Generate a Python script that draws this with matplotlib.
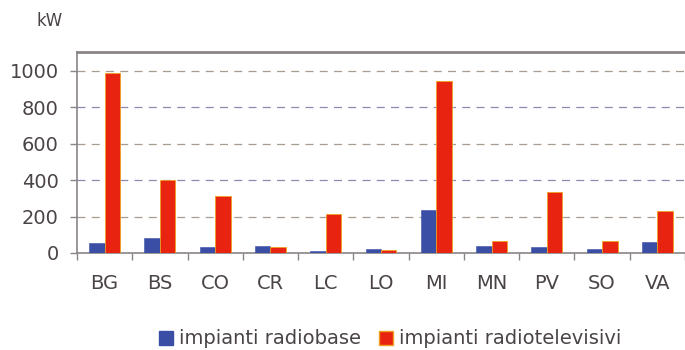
import numpy as np
import matplotlib
matplotlib.use("Agg")
import matplotlib.pyplot as plt
from matplotlib.patches import Patch

provinces = ["BG", "BS", "CO", "CR", "LC", "LO", "MI", "MN", "PV", "SO", "VA"]
radiobase = [53, 84, 31, 37, 13, 20, 236, 38, 35, 24, 59]
radiotv = [990, 400, 313, 35, 214, 15, 943, 66, 335, 64, 229]
yticks = [0, 200, 400, 600, 800, 1000]

blue = "#3a4ea6"
red = "#e8230f"
text_col = "#4a4446"
axis_col = "#8a8588"

fig = plt.figure(figsize=(6.85, 3.5), dpi=100)
ax = fig.add_axes([77 / 685, 97 / 350, 608 / 685, 201 / 350])

x = np.arange(len(provinces))
w = 0.28
ax.bar(x - w / 2, radiobase, w, color=blue, edgecolor=blue, linewidth=0.4, zorder=3)
ax.bar(x + w / 2, radiotv, w, color=red, edgecolor="#f0a020", linewidth=0.6, zorder=3)

ax.set_xlim(-0.5, 10.2)
ax.set_ylim(0, 1104)
ax.set_yticks(yticks)
ax.set_xticks(x)
ax.set_xticklabels(provinces)
ax.tick_params(axis="x", labelsize=14, colors=text_col, length=0, pad=15)
ax.tick_params(axis="y", labelsize=14, colors=text_col, length=5, width=1,
               color=axis_col, pad=8)

# category separators on the x axis
ax.set_xticks(np.arange(-0.5, len(provinces), 1), minor=True)
ax.tick_params(axis="x", which="minor", length=5, color=axis_col, width=1)

for i, t in enumerate(yticks[1:]):
    ax.axhline(t, color="#8c88b0" if i % 2 else "#a89c90", lw=0.9,
               ls=(0, (6.4, 5)), zorder=1)

for side in ["left", "bottom", "top"]:
    ax.spines[side].set_color(axis_col)
    ax.spines[side].set_linewidth(1.2)
ax.spines["top"].set_linewidth(2)
ax.spines["right"].set_visible(False)

fig.text(37 / 685, 1 - 21.5 / 350, "kW", fontsize=12, color=text_col, va="center")

handles = [Patch(color=blue), Patch(facecolor=red, edgecolor="#f0a020")]
fig.legend(handles, ["impianti radiobase", "impianti radiotelevisivi"],
           loc="center", bbox_to_anchor=(390 / 685, 1 - 339 / 350),
           ncol=2, frameon=False, fontsize=14, handlelength=0.75,
           handleheight=0.75, handletextpad=0.3, columnspacing=0.9,
           labelcolor=text_col)

fig.savefig("out.png", dpi=100, facecolor="white")
